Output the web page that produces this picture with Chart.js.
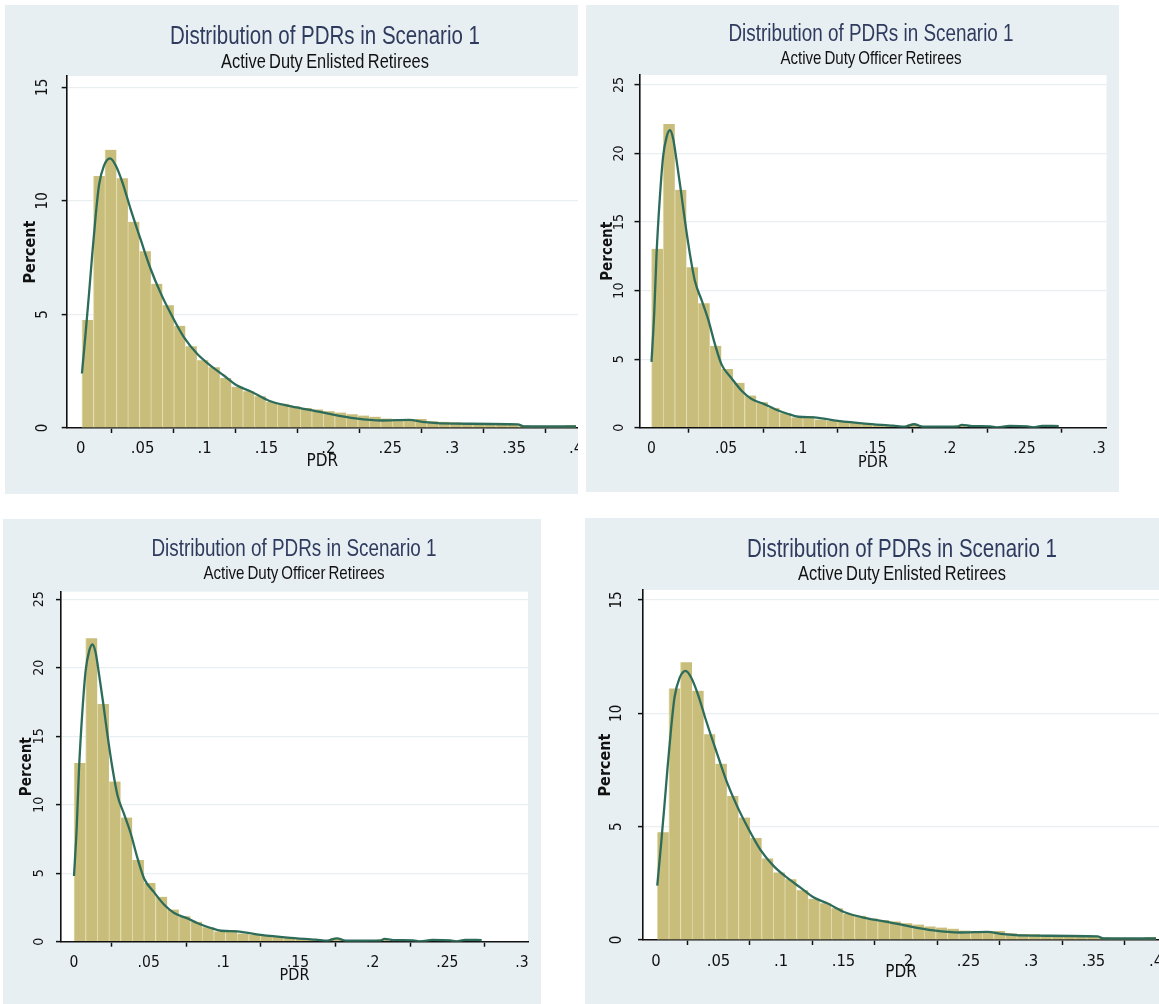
<!DOCTYPE html>
<html><head><meta charset="utf-8">
<script src="https://cdn.jsdelivr.net/npm/chart.js@4.4.1/dist/chart.umd.min.js"></script>
<style>
html,body{margin:0;padding:0;background:#fff;width:1159px;height:1004px;overflow:hidden;position:relative;}
.panel{position:absolute;background:#e8eff2;overflow:hidden;}
.panel canvas{position:absolute;left:0;top:0;}
.t{position:absolute;white-space:nowrap;line-height:1;}
</style></head><body>
<script>
// ---------- DATA ----------
const chartTitle = "Distribution of PDRs in Scenario 1";
const enlistedSubtitle = "Active Duty Enlisted Retirees";
const officerSubtitle = "Active Duty Officer Retirees";
const xAxisTitle = "PDR";
const yAxisTitle = "Percent";

// Enlisted retirees histogram (percent per bin)
const enlistedBinStart = 0.001;
const enlistedBinWidth = 0.00928;
const enlistedPercent = [4.75, 11.1, 12.25, 11.0, 9.08, 7.78, 6.35, 5.4, 4.5, 3.6, 2.98, 2.68, 2.2, 1.82,
  1.62, 1.4, 1.15, 1.07, 0.95, 0.88, 0.82, 0.74, 0.68, 0.6, 0.55, 0.5, 0.42, 0.4, 0.37, 0.4,
  0.3, 0.27, 0.25, 0.21, 0.2, 0.18, 0.17, 0.15, 0.12, 0.1, 0.08, 0.08, 0.13];
// Enlisted kernel density (scaled to percent)
const enlistedDensityX = [0.001, 0.004, 0.0067, 0.0094, 0.0121, 0.0148, 0.0188, 0.0237, 0.0282, 0.0336, 0.0403,
  0.0484, 0.0565, 0.0645, 0.0726, 0.0833, 0.094, 0.1048, 0.1156, 0.1263, 0.137, 0.152, 0.168, 0.187, 0.2,
  0.222, 0.243, 0.265, 0.278, 0.302, 0.353, 0.358, 0.4];
const enlistedDensityY = [2.4, 4.2, 5.9, 7.7, 9.35, 10.7, 11.55, 11.87, 11.57, 10.83, 9.64,
  8.3, 7.0, 5.95, 5.05, 4.0, 3.27, 2.75, 2.31, 1.87, 1.62, 1.2, 0.97, 0.78, 0.63,
  0.42, 0.33, 0.36, 0.26, 0.19, 0.16, 0.07, 0.07];
const enlistedXTicks = [0, 0.05, 0.1, 0.15, 0.2, 0.25, 0.3, 0.35, 0.4];
const enlistedXLabels = ["0", ".05", ".1", ".15", ".2", ".25", ".3", ".35", ".4"];
const enlistedYTicks = [0, 5, 10, 15];
const enlistedYLabels = ["0", "5", "10", "15"];

// Officer retirees histogram (percent per bin)
const officerBinStart = 0;
const officerBinWidth = 0.0078;
const officerPercent = [13.05, 22.15, 17.35, 11.7, 9.07, 5.97, 4.28, 3.28, 2.35, 1.85, 1.45, 1.05, 0.75, 0.85,
  0.6, 0.5, 0.42, 0.35, 0.3, 0.2, 0.15, 0.12, 0.28, 0.08, 0.05, 0.08, 0.18, 0.05, 0.05, 0.1,
  0.12, 0.05, 0.1, 0.12, 0.1];
const officerDensityX = [0.0, 0.0018, 0.0034, 0.0056, 0.0078, 0.0101, 0.0123, 0.0145, 0.0168, 0.0197, 0.0224,
  0.0257, 0.0291, 0.0336, 0.038, 0.0425, 0.047, 0.0537, 0.0604, 0.0671, 0.076, 0.0828, 0.0917, 0.0985,
  0.109, 0.125, 0.143, 0.162, 0.17, 0.176, 0.182, 0.205, 0.208, 0.215, 0.227, 0.232, 0.24, 0.252, 0.256, 0.262, 0.273];
const officerDensityY = [4.8, 8.3, 12.7, 16.8, 19.8, 21.2, 21.7, 21.1, 19.5, 17.3, 15.1,
  12.7, 10.7, 9.3, 7.9, 6.1, 4.6, 3.6, 2.7, 2.1, 1.7, 1.35, 1.0, 0.8,
  0.75, 0.5, 0.3, 0.15, 0.08, 0.25, 0.07, 0.08, 0.2, 0.12, 0.1, 0.02, 0.14, 0.1, 0.03, 0.14, 0.12];
const officerXTicks = [0, 0.05, 0.1, 0.15, 0.2, 0.25, 0.3];
const officerXLabels = ["0", ".05", ".1", ".15", ".2", ".25", ".3"];
const officerYTicks = [0, 5, 10, 15, 20, 25];
const officerYLabels = ["0", "5", "10", "15", "20", "25"];

// ---------- FONTS ----------
function hasFont(n){
  const c=document.createElement('canvas').getContext('2d');const s='Distribution 0123 PDRs';
  c.font='40px monospace';const a=c.measureText(s).width;
  c.font='40px "'+n+'", monospace';return Math.abs(c.measureText(s).width-a)>0.5;
}
const NARROW = hasFont('Liberation Sans Narrow');
const FAMILY = NARROW ? '"Liberation Sans Narrow", "Liberation Sans", Arial, sans-serif' : '"Liberation Sans", Arial, sans-serif';
const SQUEEZE = NARROW ? 1 : 0.82;
const TICKFAMILY = NARROW ? FAMILY : '"DejaVu Sans Condensed", "Liberation Sans", sans-serif';
Chart.defaults.font.family = TICKFAMILY;

// ---------- LAYOUT ----------
const D = {
  enlisted:{sub:enlistedSubtitle, start:enlistedBinStart, width:enlistedBinWidth, pct:enlistedPercent,
    dx:enlistedDensityX, dy:enlistedDensityY, xt:enlistedXTicks, xl:enlistedXLabels, yt:enlistedYTicks, yl:enlistedYLabels},
  officer:{sub:officerSubtitle, start:officerBinStart, width:officerBinWidth, pct:officerPercent,
    dx:officerDensityX, dy:officerDensityY, xt:officerXTicks, xl:officerXLabels, yt:officerYTicks, yl:officerYLabels}
};
const panels = [
  {d:'enlisted', box:[5,5,573,489], area:[66.7,76,578,428], x0:80.7, x1:576, xv1:0.4, y0:428, y1:87.3, yv1:15,
   title:[325,35,25], sub:[325,61,20], ytp:10.3, ytitle:16, xtp:6, xtitle:22, tick:16.5, ytick:15, atf:17},
  {d:'officer', box:[585.5,5,533.5,487], area:[639,75,1106,427.7], x0:651, x1:1098.5, xv1:0.3, y0:427.7, y1:85, yv1:25,
   title:[871,33,23], sub:[871,58,18.4], ytp:7.2, ytitle:13, xtp:7.2, xtitle:20, tick:15.5, ytick:14, atf:16},
  {d:'officer', box:[3,519,538,485], area:[61,591.7,528,941.7], x0:74, x1:522, xv1:0.3, y0:941.7, y1:599.3, yv1:25,
   title:[294,547.5,23], sub:[294,573,18.4], ytp:9, ytitle:14.8, xtp:6.6, xtitle:18.8, tick:15.5, ytick:14, atf:16},
  {d:'enlisted', box:[585,518,574,486], area:[643,590,1159,940], x0:656, x1:1156, xv1:0.4, y0:940, y1:600, yv1:15,
   title:[902,547.5,25], sub:[902,573,20], ytp:12, ytitle:10.8, xtp:6.6, xtitle:20.8, tick:16.5, ytick:15, atf:17}
];

const bgPlugin = {id:'plotbg', beforeDraw(c){const a=c.chartArea,ctx=c.ctx;ctx.save();ctx.fillStyle='#ffffff';
  ctx.fillRect(a.left,a.top,a.right-a.left,a.bottom-a.top);ctx.restore();}};

function addText(txt,cx,cy,size,color,extra){
  const el=document.createElement('div');el.className='t';el.textContent=txt;
  el.style.left=cx+'px';el.style.top=cy+'px';el.style.fontFamily=FAMILY;el.style.fontSize=size+'px';
  el.style.color=color;el.style.transform='translate(-50%,-50%) scaleX('+SQUEEZE+')';
  if(extra) Object.assign(el.style,extra);
  document.body.appendChild(el);
}

panels.forEach(p=>{
  const d = D[p.d];
  const [bx,by,bw,bh] = p.box;
  const div=document.createElement('div');div.className='panel';
  div.style.left=bx+'px';div.style.top=by+'px';div.style.width=bw+'px';div.style.height=bh+'px';
  document.body.appendChild(div);
  const cv=document.createElement('canvas');cv.width=Math.round(bw);cv.height=Math.round(bh);
  cv.style.width=cv.width+'px';cv.style.height=cv.height+'px';
  div.appendChild(cv);
  const L=p.area[0]-bx, T=p.area[1]-by, R=p.area[2]-bx, B=p.area[3]-by;
  const pxPerX=(p.x1-p.x0)/p.xv1;
  const xmin=-(p.x0-p.area[0])/pxPerX, xmax=p.xv1+(p.area[2]-p.x1)/pxPerX;
  const pxPerY=(p.y0-p.y1)/p.yv1;
  const ymax=p.yv1+(p.y1-p.area[1])/pxPerY;
  const bars=d.pct.map((v,i)=>({x:d.start+(i+0.5)*d.width, y:v}));
  const curve=d.dx.map((x,i)=>({x:x, y:d.dy[i]}));
  new Chart(cv,{
    type:'bar',
    data:{datasets:[
      {type:'line',data:curve,borderColor:'#2d6c5a',borderWidth:2.3,pointRadius:0,cubicInterpolationMode:'monotone',order:0},
      {type:'bar',data:bars,backgroundColor:'#c8bd7a',borderColor:'#e3dcab',borderWidth:{left:1,right:0,top:0,bottom:0},
       borderSkipped:false,barPercentage:1,categoryPercentage:1,order:1}
    ]},
    options:{
      responsive:false,animation:false,devicePixelRatio:1,
      layout:{autoPadding:false,padding:{left:0,top:T,right:cv.width-R,bottom:0}},
      plugins:{legend:{display:false},tooltip:{enabled:false},title:{display:false}},
      scales:{
        x:{type:'linear',min:xmin,max:xmax,offset:false,
          afterBuildTicks:s=>{s.ticks=d.xt.map(v=>({value:v}));},
          afterFit:s=>{s.height=cv.height-B;s.paddingLeft=0;s.paddingRight=0;},
          ticks:{callback:(v,i)=>d.xl[i],padding:p.xtp,font:{size:p.tick},color:'#111',maxRotation:0,minRotation:0,autoSkip:false},
          grid:{drawOnChartArea:false,drawTicks:true,tickLength:5,tickColor:'#111',tickWidth:1.5},
          border:{display:true,color:'#111',width:1.6},
          title:{display:true,text:xAxisTitle,font:{size:p.atf},color:'#111',padding:{top:0,bottom:p.xtitle}}
        },
        y:{type:'linear',min:0,max:ymax,
          afterBuildTicks:s=>{s.ticks=d.yt.map(v=>({value:v}));},
          afterFit:s=>{s.width=L;s.paddingTop=0;s.paddingBottom=0;},
          ticks:{callback:(v,i)=>d.yl[i],minRotation:90,maxRotation:90,crossAlign:'center',padding:p.ytp,font:{size:p.ytick},color:'#111',autoSkip:false},
          grid:{color:'#e9eff1',lineWidth:1.2,drawTicks:true,tickLength:5,tickColor:'#111',tickWidth:1.5},
          border:{display:true,color:'#111',width:1.6},
          title:{display:true,text:yAxisTitle,font:{size:p.atf-1,weight:'bold'},color:'#111',padding:{top:p.ytitle,bottom:0}}
        }
      }
    },
    plugins:[bgPlugin]
  });
  addText(chartTitle,p.title[0],p.title[1],p.title[2],'#2f3b5e');
  addText(d.sub,p.sub[0],p.sub[1],p.sub[2],'#111',{wordSpacing:'-1.5px'});
});
</script>
</body></html>
